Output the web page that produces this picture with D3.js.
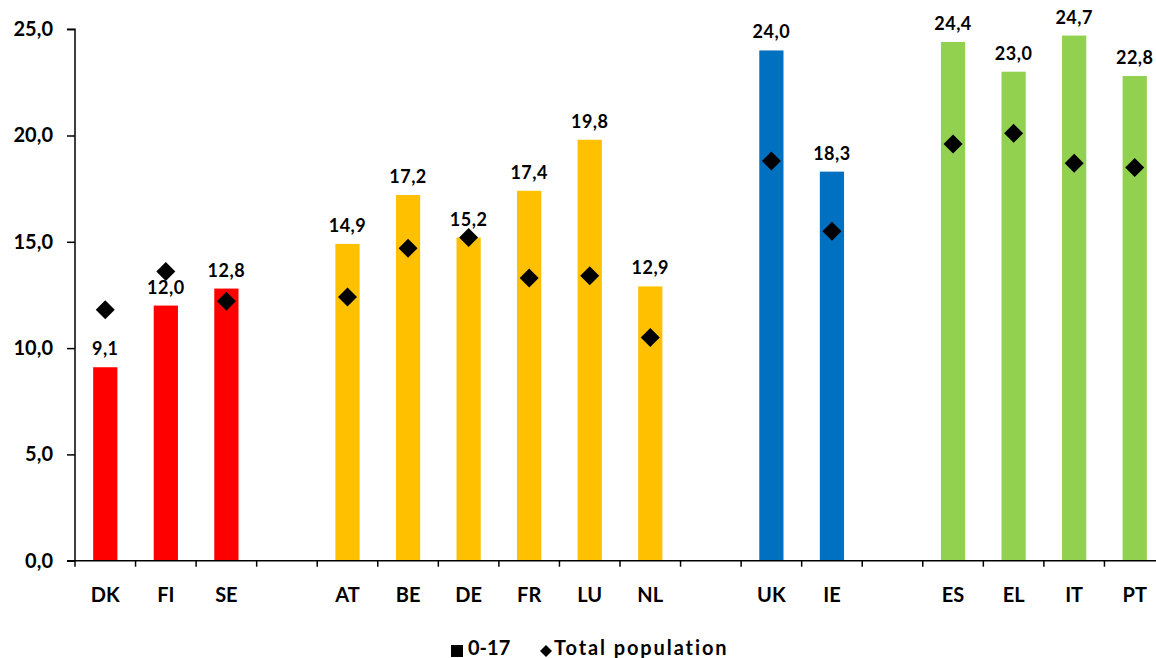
<!DOCTYPE html>
<html>
<head>
<meta charset="utf-8">
<script src="https://cdn.jsdelivr.net/npm/d3@7"></script>
<style>
  html, body { margin: 0; padding: 0; background: #fff; }
  svg { display: block; font-family: "Lato", "Open Sans", sans-serif; font-weight: 700; }
</style>
</head>
<body>
<svg id="chart" width="1156" height="658"></svg>
<script>
// Country groups, in display order (a blank slot separates each group)
const groups = [
  ["DK", "FI", "SE"],
  ["AT", "BE", "DE", "FR", "LU", "NL"],
  ["UK", "IE"],
  ["ES", "EL", "IT", "PT"]
];
const groupColors = ["#FF0000", "#FFC000", "#0070C0", "#92D050"];

// Share (%) for children aged 0-17 (bars) and the total population (diamonds)
const categories = ["DK", "FI", "SE", "AT", "BE", "DE", "FR", "LU", "NL", "UK", "IE", "ES", "EL", "IT", "PT"];
const children   = [9.1, 12.0, 12.8, 14.9, 17.2, 15.2, 17.4, 19.8, 12.9, 24.0, 18.3, 24.4, 23.0, 24.7, 22.8];
const totalPop   = [11.8, 13.6, 12.2, 12.4, 14.7, 15.2, 13.3, 13.4, 10.5, 18.8, 15.5, 19.6, 20.1, 18.7, 18.5];

const yTicks = [0, 5, 10, 15, 20, 25];
const legendLabels = ["0-17", "Total population"];

const svg = d3.select("#chart");
const fmt = d3.formatLocale({ decimal: ",", thousands: ".", grouping: [3], currency: ["", "€"] }).format(".1f");

// Slots: every country plus one empty slot between groups
const slots = [];
groups.forEach((g, i) => {
  if (i > 0) slots.push("gap" + i);
  g.forEach(c => slots.push(c));
});
const colorOf = {};
groups.forEach((g, i) => g.forEach(c => colorOf[c] = groupColors[i]));

const x = d3.scaleBand().domain(slots).range([75, 1165]).padding(0);
const y = d3.scaleLinear().domain([0, 25]).range([560.7, 29.2]);
const barW = x.bandwidth() * 0.4;

const rows = categories.map((c, i) => ({ c, v: children[i], t: totalPop[i] }));

// Bars
svg.append("g").selectAll("rect").data(rows).join("rect")
  .attr("x", d => x(d.c) + (x.bandwidth() - barW) / 2)
  .attr("y", d => y(d.v))
  .attr("width", barW)
  .attr("height", d => y(0) - y(d.v))
  .attr("fill", d => colorOf[d.c]);

// Value labels above the bars
svg.append("g").selectAll("text").data(rows).join("text")
  .attr("x", d => x(d.c) + x.bandwidth() / 2)
  .attr("y", d => y(d.v) - 12)
  .attr("text-anchor", "middle")
  .attr("font-size", 18)
  .attr("letter-spacing", 0.5)
  .attr("fill", "#000")
  .text(d => fmt(d.v));

// Total population markers (diamonds)
const dHalf = 9.5;
const diamond = `M0,${-dHalf}L${dHalf},0L0,${dHalf}L${-dHalf},0Z`;
svg.append("g").selectAll("path").data(rows).join("path")
  .attr("d", diamond)
  .attr("transform", d => `translate(${x(d.c) + x.bandwidth() / 2},${y(d.t)})`)
  .attr("fill", "#000");

// Y axis
const yAxis = svg.append("g")
  .attr("transform", "translate(75,0)")
  .call(d3.axisLeft(y).tickValues(yTicks).tickFormat(fmt).tickSize(8).tickPadding(14));
yAxis.select(".domain").attr("stroke", "#000").attr("stroke-width", 1.5).attr("d", `M-8,${y(25)}H0V${y(0)}`);
yAxis.selectAll(".tick line").attr("stroke", "#000").attr("stroke-width", 1.5);
yAxis.selectAll(".tick text")
  .attr("font-size", 20).attr("font-family", "Lato, sans-serif").attr("font-weight", 700)
  .attr("fill", "#000");

// X axis: baseline, slot boundary ticks and category labels
const xAxis = svg.append("g");
xAxis.append("line")
  .attr("x1", 67).attr("x2", x.range()[1])
  .attr("y1", y(0)).attr("y2", y(0))
  .attr("stroke", "#000").attr("stroke-width", 1.5);
const bounds = slots.map(s => x(s)).concat([x.range()[1]]);
xAxis.selectAll("line.tk").data(bounds).join("line")
  .attr("class", "tk")
  .attr("x1", d => d).attr("x2", d => d)
  .attr("y1", y(0)).attr("y2", y(0) + 6)
  .attr("stroke", "#000").attr("stroke-width", 1.5);
xAxis.selectAll("text").data(categories).join("text")
  .attr("x", d => x(d) + x.bandwidth() / 2)
  .attr("y", 602)
  .attr("text-anchor", "middle")
  .attr("font-size", 20)
  .attr("fill", "#000")
  .text(d => d);

// Legend
const lg = svg.append("g");
lg.append("rect").attr("x", 451).attr("y", 645).attr("width", 12).attr("height", 12).attr("fill", "#000");
lg.append("text").attr("x", 468).attr("y", 655).attr("font-size", 20).attr("fill", "#000").text(legendLabels[0]);
lg.append("path").attr("d", "M0,-6L6,0L0,6L-6,0Z").attr("transform", "translate(546,651)").attr("fill", "#000");
lg.append("text").attr("x", 554).attr("y", 655).attr("font-size", 20).attr("letter-spacing", 1.9)
  .attr("fill", "#000").text(legendLabels[1]);
</script>
</body>
</html>
